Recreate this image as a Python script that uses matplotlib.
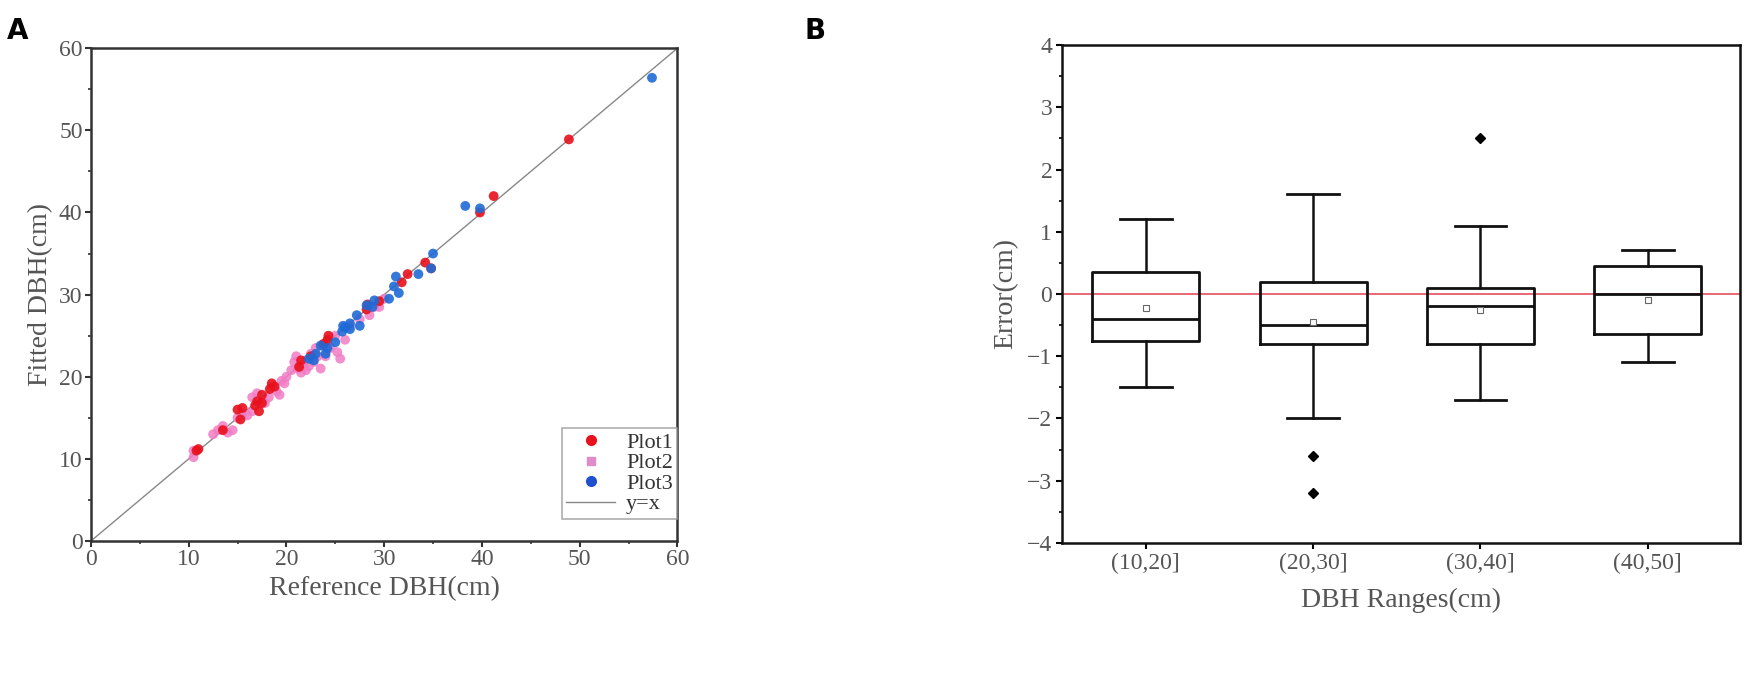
import matplotlib
matplotlib.use("Agg")
import matplotlib.pyplot as plt
from matplotlib.ticker import MultipleLocator
from matplotlib.lines import Line2D

# ---------------- data: panel A ----------------
plot1_ref = [48.9, 41.2, 39.8, 34.2, 34.8, 32.4, 31.8, 29.5, 28.3, 28.2, 24.3, 24.2, 23.8,
             22.5, 21.5, 21.3, 18.5, 18.8, 18.3, 17.5, 17.0, 16.8, 17.5, 17.2, 15.5, 15.0,
             15.3, 13.5, 11.0, 10.8]
plot1_fit = [48.9, 42.0, 40.0, 33.9, 33.2, 32.5, 31.5, 29.2, 28.8, 28.2, 25.0, 24.5, 24.0,
             22.5, 22.0, 21.2, 19.2, 18.8, 18.5, 17.8, 17.0, 16.5, 16.8, 15.8, 16.2, 16.0,
             14.8, 13.5, 11.2, 11.0]

plot2_ref = [10.5, 10.5, 12.5, 13.0, 13.5, 14.0, 14.5, 15.0, 15.5, 16.0, 16.5, 16.5, 17.0,
             17.8, 18.2, 18.5, 19.0, 19.3, 19.5, 20.0, 20.5, 21.0, 21.2, 21.5, 21.8, 22.0,
             22.3, 22.5, 22.8, 23.0, 23.2, 23.5, 24.0, 24.5, 25.0, 25.2, 25.5, 26.0, 27.5,
             28.5, 29.0, 29.5, 30.0, 20.8, 19.8, 22.0, 23.8, 26.5]
plot2_fit = [10.2, 11.0, 13.0, 13.5, 14.0, 13.2, 13.5, 15.0, 15.5, 15.3, 15.8, 17.5, 18.0,
             16.8, 17.5, 18.8, 18.2, 17.8, 19.5, 20.0, 20.8, 22.5, 21.0, 20.5, 21.5, 20.8,
             21.3, 22.8, 21.8, 23.5, 22.5, 21.0, 22.5, 23.5, 25.0, 23.0, 22.2, 24.5, 27.0,
             27.5, 28.5, 28.5, 29.5, 21.8, 19.2, 22.0, 23.8, 26.2]

plot3_ref = [57.4, 38.3, 39.8, 35.0, 34.8, 33.5, 31.2, 31.5, 31.0, 30.5, 29.0, 28.8, 28.2,
             27.2, 26.5, 26.0, 25.7, 26.5, 27.5, 25.0, 24.2, 23.5, 23.0, 22.3, 22.8, 24.0,
             25.8]
plot3_fit = [56.4, 40.8, 40.5, 35.0, 33.2, 32.5, 32.2, 30.2, 31.0, 29.5, 29.3, 28.5, 28.7,
             27.5, 26.5, 26.0, 25.5, 25.8, 26.2, 24.2, 23.5, 23.8, 22.8, 22.2, 22.0, 22.8,
             26.2]

# ---------------- data: panel B ----------------
range_labels = ["(10,20]", "(20,30]", "(30,40]", "(40,50]"]
whislo = [-1.5, -2.0, -1.7, -1.1]
q1 = [-0.75, -0.8, -0.8, -0.65]
med = [-0.4, -0.5, -0.2, 0.0]
q3 = [0.35, 0.2, 0.1, 0.45]
whishi = [1.2, 1.6, 1.1, 0.7]
means = [-0.23, -0.45, -0.25, -0.1]
fliers = [[], [-2.6, -3.2], [2.5], []]

plt.rcParams["font.family"] = ["Liberation Serif", "DejaVu Serif"]

fig = plt.figure(figsize=(17.45, 6.99), dpi=100)

# ---------- Panel A ----------
axA = fig.add_axes([0.0521, 0.226, 0.3361, 0.705])
c1, c2, c3 = "#e8101c", "#f07cc4", "#1f6ad6"
axA.scatter(plot2_ref, plot2_fit, s=50, color=c2, alpha=0.85, edgecolors="none", zorder=3)
axA.scatter(plot1_ref, plot1_fit, s=50, color=c1, alpha=0.9, edgecolors="none", zorder=4)
axA.scatter(plot3_ref, plot3_fit, s=50, color=c3, alpha=0.9, edgecolors="none", zorder=5)
axA.plot([0, 60], [0, 60], color="#888888", lw=1.0, zorder=2)
axA.set_xlim(0, 60)
axA.set_ylim(0, 60)
axA.xaxis.set_major_locator(MultipleLocator(10))
axA.yaxis.set_major_locator(MultipleLocator(10))
axA.xaxis.set_minor_locator(MultipleLocator(5))
axA.yaxis.set_minor_locator(MultipleLocator(5))
for sp in axA.spines.values():
    sp.set_linewidth(1.8)
    sp.set_color("#333333")
axA.tick_params(which="major", direction="out", length=4, width=1.5, labelsize=17,
                colors="#333333", labelcolor="#555555", top=False, right=False, pad=2)
axA.tick_params(which="minor", direction="out", length=2, width=1.2, colors="#333333",
                top=False, right=False)
axA.set_xlabel("Reference DBH(cm)", fontsize=20, color="#555555", labelpad=4)
axA.set_ylabel("Fitted DBH(cm)", fontsize=20, color="#555555", labelpad=4)

handles = [
    Line2D([], [], marker="o", ls="none", color=c1, markersize=7),
    Line2D([], [], marker="s", ls="none", color="#e08cc8", markersize=6),
    Line2D([], [], marker="o", ls="none", color="#2050d0", markersize=7),
    Line2D([], [], color="#888888", lw=1.0),
]
leg = axA.legend(handles, ["Plot1", "Plot2", "Plot3", "y=x"], loc="lower right",
                 bbox_to_anchor=(1.0, 0.045), fontsize=16, frameon=True, fancybox=False,
                 borderpad=0.2, labelspacing=0.0, handlelength=2.2, handletextpad=0.5,
                 borderaxespad=0.0)
leg.get_frame().set_edgecolor("#999999")
leg.get_frame().set_linewidth(1.2)
for t in leg.get_texts():
    t.set_color("#333333")

# ---------- Panel B ----------
axB = fig.add_axes([0.6086, 0.2232, 0.3885, 0.7124])
stats = []
for i in range(len(range_labels)):
    stats.append(dict(label=range_labels[i], whislo=whislo[i], q1=q1[i], med=med[i],
                      q3=q3[i], whishi=whishi[i], mean=means[i], fliers=fliers[i]))
positions = list(range(1, len(range_labels) + 1))
axB.bxp(stats, positions=positions, widths=0.64, showmeans=True, showfliers=True,
        boxprops=dict(color="#111111", lw=2.0),
        medianprops=dict(color="#111111", lw=2.0),
        whiskerprops=dict(color="#111111", lw=1.8),
        capprops=dict(color="#111111", lw=2.0),
        capwidths=0.31,
        meanprops=dict(marker="s", markerfacecolor="white", markeredgecolor="#666666",
                       markersize=5, markeredgewidth=0.8),
        flierprops=dict(marker="D", markerfacecolor="black", markeredgecolor="black",
                        markersize=5.5))
axB.axhline(0, color="#e04050", lw=1.1, zorder=0)
axB.set_xlim(0.5, 4.55)
axB.set_ylim(-4, 4)
axB.yaxis.set_major_locator(MultipleLocator(1))
axB.yaxis.set_minor_locator(MultipleLocator(0.5))
axB.set_xticks(positions)
axB.set_xticklabels(range_labels)
for sp in axB.spines.values():
    sp.set_linewidth(1.8)
    sp.set_color("#111111")
axB.tick_params(which="major", direction="out", length=4, width=1.5, labelsize=17,
                labelcolor="#555555", top=False, right=False, pad=3)
axB.tick_params(axis="y", which="minor", direction="out", length=2, width=1.2,
                left=True, right=False)
axB.tick_params(axis="x", which="minor", bottom=False)
axB.set_xlabel("DBH Ranges(cm)", fontsize=20, color="#555555", labelpad=10)
axB.set_ylabel("Error(cm)", fontsize=20, color="#555555", labelpad=6)

fig.text(0.004, 0.955, "A", fontsize=20, fontweight="bold", family="DejaVu Sans",
         ha="left", va="center")
fig.text(0.461, 0.955, "B", fontsize=20, fontweight="bold", family="DejaVu Sans",
         ha="left", va="center")

fig.savefig("out.png", dpi=100)
